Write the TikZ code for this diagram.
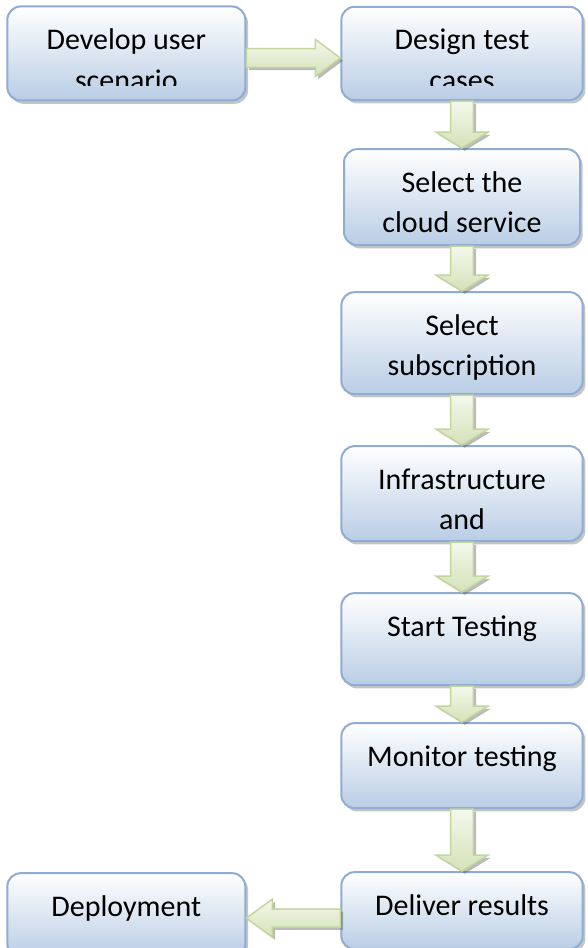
\documentclass[tikz,border=0pt]{standalone}
\usepackage{fontspec}
\setmainfont{Carlito}
\usetikzlibrary{positioning,calc,shadows}

\definecolor{boxline}{RGB}{143,172,210}
\definecolor{boxfill}{RGB}{185,205,229}
\definecolor{arrowline}{RGB}{195,214,155}
\definecolor{arrowfill}{RGB}{212,226,184}
\definecolor{arrowlight}{RGB}{244,248,236}

% block arrow: [options]{from}{to}{shaft half width}{head half width}{head length}
\newcommand{\flowarrow}[6][]{%
  \coordinate (neck) at ($(#3)!#6!(#2)$);
  \draw[flow arrow,#1] ($(#2)!#4!-90:(#3)$) -- ($(neck)!#4!-90:(#3)$)
    -- ($(neck)!#5!-90:(#3)$) -- (#3) -- ($(neck)!#5!90:(#3)$)
    -- ($(neck)!#4!90:(#3)$) -- ($(#2)!#4!90:(#3)$) -- cycle;}

\begin{document}
\begin{tikzpicture}
  [clip inset/.store in=\clipinset,clip inset=8pt,
  main node/.style={rounded corners=10pt,draw=boxline,line width=1.5pt,
    top color=white,bottom color=boxfill,minimum width=181pt,inner sep=0pt,
    drop shadow={shadow xshift=2pt,shadow yshift=-2.5pt,fill=black!45,opacity=.5},
    path picture={
      \clip (path picture bounding box.north west) rectangle ([yshift=\clipinset]path picture bounding box.south east);
      \node[anchor=north,align=center,inner sep=0pt,minimum width=0pt,minimum height=0pt,
        font=\fontsize{22.5}{30.5}\selectfont]
        at (path picture bounding box.north) {\rule{0pt}{31.5pt}#1};}},
  flow arrow/.style={draw=arrowline,line width=1.1pt,top color=arrowlight,bottom color=arrowfill,
    drop shadow={shadow xshift=2pt,shadow yshift=-2pt,fill=black!60,opacity=.45}}]
  \useasboundingbox (0,0) rectangle (441pt,-711pt);

  \node[main node={Design test\\cases},clip inset=11pt,minimum height=70pt] (2) at (346.5pt,-40.1pt) {};
  \node[main node={Develop user\\scenario},clip inset=11pt,minimum height=70.5pt,minimum width=178.5pt,left=70.5pt of 2] (1) {};
  \node[main node={Select the\\cloud service},minimum height=72pt,minimum width=177pt,below=35.25pt of 2] (3) {};
  \node[main node={Select\\subscription},minimum height=76.5pt,below=33.75pt of 3] (4) {};
  \node[main node={Infrastructure\\and},minimum height=71.25pt,below=37.5pt of 4] (5) {};
  \node[main node={Start Testing},minimum height=69pt,below=37.5pt of 5] (6) {};
  \node[main node={Monitor testing},minimum height=63.75pt,below=27pt of 6] (7) {};
  \node[main node={Deliver results},minimum height=57.75pt,below=46.5pt of 7] (8) {};
  \node[main node={Deployment},minimum height=63pt,minimum width=178.5pt,left=70.5pt of 8,yshift=-3.4pt] (9) {};

  \coordinate (from1) at ([yshift=-3.4pt]1.east);
  \coordinate (to2) at (from1 -| 2.west);
  \flowarrow{from1}{to2}{7.1pt}{13.9pt}{18.75pt}
  \flowarrow{2.south}{3.north}{8.6pt}{19.5pt}{12pt}
  \flowarrow{3.south}{4.north}{8.6pt}{19.5pt}{12pt}
  \flowarrow{4.south}{5.north}{8.6pt}{19.5pt}{12pt}
  \flowarrow{5.south}{6.north}{8.6pt}{19.5pt}{12pt}
  \flowarrow{6.south}{7.north}{8.6pt}{19.5pt}{12pt}
  \flowarrow{7.south}{8.north}{8.6pt}{19.5pt}{12pt}
  \coordinate (from8) at ([yshift=-5.6pt]8.west);
  \coordinate (to9) at (from8 -| 9.east);
  \flowarrow{from8}{to9}{6.75pt}{14.25pt}{19.5pt}
\end{tikzpicture}
\end{document}
